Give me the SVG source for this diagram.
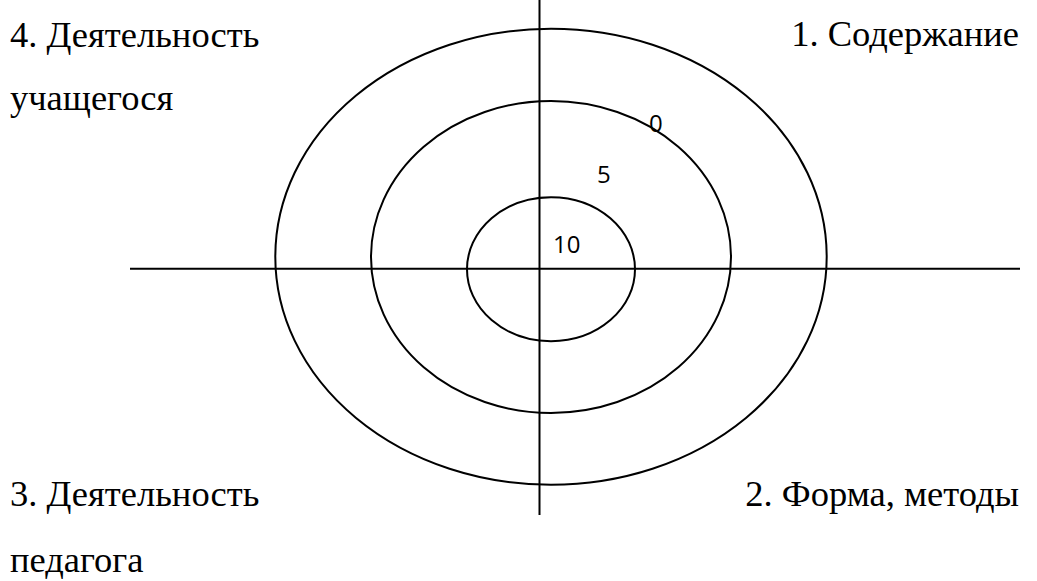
<svg xmlns="http://www.w3.org/2000/svg" width="1037" height="581" viewBox="0 0 1037 581">
<style>
.ring{fill:none;stroke:#000;stroke-width:2}
.axis{stroke:#000;stroke-width:2}
.lbl{font-family:"Liberation Serif","Times New Roman",serif;font-size:36.5px;fill:#000}
.num{font-family:"Open Sans","Liberation Sans",sans-serif;font-size:24px;fill:#000}
</style>
<rect width="1037" height="581" fill="#fff"/>
<g id="rings">
<ellipse id="ring-outer" class="ring" cx="551" cy="256.7" rx="275.7" ry="228"/>
<ellipse id="ring-middle" class="ring" cx="551" cy="257" rx="180" ry="156"/>
<ellipse id="ring-inner" class="ring" cx="551" cy="269.2" rx="84" ry="72"/>
</g>
<g id="connectors">
<line class="axis" x1="539.5" y1="0" x2="539.5" y2="515"/>
<line class="axis" x1="130" y1="268.7" x2="1020" y2="268.7"/>
</g>
<g id="scale">
<text class="num" x="649" y="131.5">0</text>
<text class="num" x="597" y="182.7">5</text>
<text class="num" x="553" y="253">10</text>
</g>
<g id="q4"><text class="lbl" x="10" y="46.5">4. Деятельность</text><text class="lbl" x="10" y="110">учащегося</text></g>
<g id="q1"><text class="lbl" x="1019" y="46" text-anchor="end">1. Содержание</text></g>
<g id="q3"><text class="lbl" x="10" y="506">3. Деятельность</text><text class="lbl" x="10" y="572">педагога</text></g>
<g id="q2"><text class="lbl" x="1019" y="506" text-anchor="end">2. Форма, методы</text></g>
</svg>
